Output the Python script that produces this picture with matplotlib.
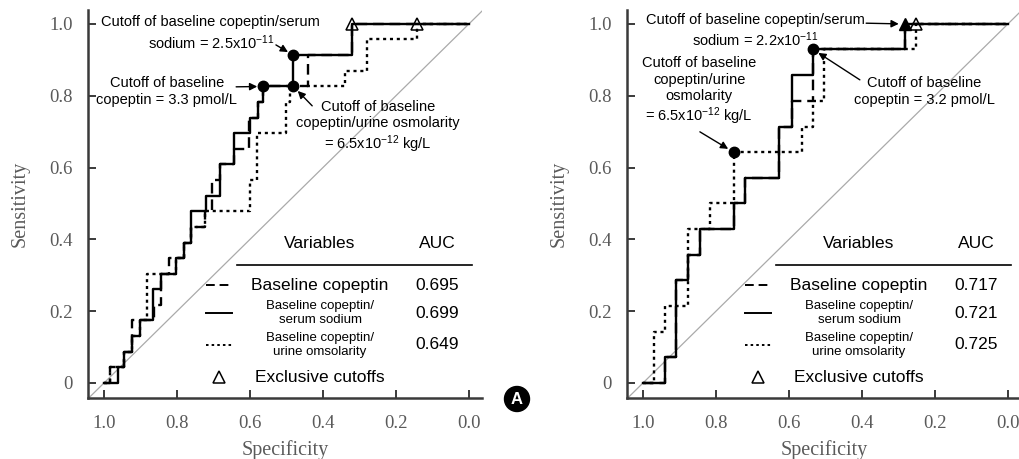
import matplotlib
matplotlib.use("Agg")
import matplotlib.pyplot as plt
from matplotlib.lines import Line2D

plt.rcParams["font.family"] = ["Liberation Sans", "DejaVu Sans"]
plt.rcParams["mathtext.fontset"] = "custom"
plt.rcParams["mathtext.rm"] = "Liberation Sans"
plt.rcParams["mathtext.it"] = "Liberation Sans"

SERIF = "Liberation Serif"
GREY = "#5a5a5a"
AXC = "#3a3a3a"

# ROC step points (specificity, sensitivity)
# left panel
a_spec_cop = [1.0, 0.984, 0.945, 0.923, 0.863, 0.844, 0.823, 0.782, 0.762, 0.724, 0.703,
              0.682, 0.643, 0.604, 0.577, 0.563, 0.441, 0.319, 0.0]
a_sens_cop = [0.0, 0.043, 0.087, 0.174, 0.217, 0.304, 0.348, 0.391, 0.435, 0.478, 0.565,
              0.609, 0.652, 0.739, 0.783, 0.826, 0.913, 1.0, 1.0]
a_spec_na = [1.0, 0.962, 0.945, 0.923, 0.902, 0.865, 0.843, 0.803, 0.782, 0.762, 0.721,
             0.682, 0.643, 0.601, 0.577, 0.563, 0.481, 0.319, 0.0]
a_sens_na = [0.0, 0.043, 0.087, 0.130, 0.174, 0.261, 0.304, 0.348, 0.391, 0.478, 0.522,
             0.609, 0.696, 0.739, 0.783, 0.826, 0.913, 1.0, 1.0]
a_spec_uosm = [1.0, 0.984, 0.945, 0.923, 0.902, 0.883, 0.803, 0.782, 0.762, 0.724, 0.601,
               0.581, 0.501, 0.490, 0.339, 0.279, 0.142, 0.0]
a_sens_uosm = [0.0, 0.043, 0.087, 0.130, 0.174, 0.304, 0.348, 0.391, 0.435, 0.478, 0.565,
               0.696, 0.783, 0.826, 0.870, 0.957, 1.0, 1.0]
a_cut_spec = [0.563, 0.481, 0.481]   # copeptin, serum sodium, urine osmolarity
a_cut_sens = [0.826, 0.913, 0.826]
a_excl_spec = [0.319, 0.142]
a_excl_sens = [1.0, 1.0]
a_auc = ["0.695", "0.699", "0.649"]

# right panel
b_spec_cop = [1.0, 0.940, 0.909, 0.877, 0.845, 0.752, 0.720, 0.626, 0.593, 0.534, 0.282, 0.0]
b_sens_cop = [0.0, 0.071, 0.286, 0.357, 0.429, 0.5, 0.571, 0.714, 0.786, 0.929, 1.0, 1.0]
b_spec_na = [1.0, 0.940, 0.909, 0.877, 0.845, 0.752, 0.720, 0.626, 0.593, 0.534, 0.282, 0.0]
b_sens_na = [0.0, 0.071, 0.286, 0.357, 0.429, 0.5, 0.571, 0.714, 0.857, 0.929, 1.0, 1.0]
b_spec_uosm = [1.0, 0.971, 0.940, 0.877, 0.817, 0.752, 0.564, 0.534, 0.505, 0.252, 0.0]
b_sens_uosm = [0.0, 0.143, 0.214, 0.429, 0.5, 0.643, 0.714, 0.786, 0.929, 1.0, 1.0]
b_cut_spec = [0.534, 0.752]   # copeptin, urine osmolarity
b_cut_sens = [0.929, 0.643]
b_na_cut_spec = [0.282]
b_na_cut_sens = [1.0]
b_excl_spec = [0.252]
b_excl_sens = [1.0]
b_auc = ["0.717", "0.721", "0.725"]

x_ticks = [1.0, 0.8, 0.6, 0.4, 0.2, 0.0]
x_labels = ["1.0", "0.8", "0.6", "0.4", "0.2", "0.0"]
y_ticks = [0, 0.2, 0.4, 0.6, 0.8, 1.0]
y_labels = ["0", "0.2", "0.4", "0.6", "0.8", "1.0"]

row_names = ["Baseline copeptin", "Baseline copeptin/\nserum sodium",
             "Baseline copeptin/\nurine omsolarity"]

DASH = (0, (4.5, 2.5))
DOT = (0, (1.3, 1.6))
LW = 1.7


def style_axes(ax):
    ax.set_xlim(1.044, -0.036)
    ax.set_ylim(-0.042, 1.039)
    for s in ["top", "right"]:
        ax.spines[s].set_visible(False)
    for s in ["left", "bottom"]:
        ax.spines[s].set_color(AXC)
        ax.spines[s].set_linewidth(1.8)
    ax.set_xticks(x_ticks)
    ax.set_xticklabels(x_labels, family=SERIF, fontsize=13.5, color=GREY)
    ax.set_yticks(y_ticks)
    ax.set_yticklabels(y_labels, family=SERIF, fontsize=13.5, color=GREY)
    ax.tick_params(direction="in", length=6, width=1.4, color=AXC)
    ax.tick_params(axis="x", pad=12)
    ax.tick_params(axis="y", pad=11)
    ax.set_xlabel("Specificity", family=SERIF, fontsize=14.5, color=GREY, labelpad=6)
    ax.set_ylabel("Sensitivity", family=SERIF, fontsize=14.5, color=GREY, labelpad=14)
    ax.axline((1, 0), (0, 1), color="#aaaaaa", lw=0.9, zorder=1)


def draw_legend(ax, aucs):
    tr = ax.transAxes
    ax.text(0.589, 0.397, "Variables", transform=tr, ha="center", va="center", fontsize=12.5)
    ax.text(0.886, 0.397, "AUC", transform=tr, ha="center", va="center", fontsize=12.5)
    ax.add_line(Line2D([0.378, 0.975], [0.343, 0.343], transform=tr, color="black",
                       lw=1.2, clip_on=False))
    rows_y = [0.291, 0.219, 0.137]
    styles = [DASH, "-", DOT]
    for i, (yy, ls) in enumerate(zip(rows_y, styles)):
        ax.add_line(Line2D([0.299, 0.365], [yy, yy], transform=tr, color="black",
                           lw=1.4, ls=ls, clip_on=False))
        fs = 12.5 if i == 0 else 9.5
        ax.text(0.589, yy, row_names[i], transform=tr, ha="center", va="center",
                fontsize=fs, linespacing=1.2)
        ax.text(0.886, yy, aucs[i], transform=tr, ha="center", va="center", fontsize=12.5)
    ax.plot([0.332], [0.054], marker="^", ms=9, mfc="white", mec="black", mew=1.1,
            transform=tr, clip_on=False)
    ax.text(0.589, 0.054, "Exclusive cutoffs", transform=tr, ha="center", va="center",
            fontsize=12.5)


def arrow(ax, tip, tail):
    ax.annotate("", xy=tip, xycoords="data", xytext=tail, textcoords="axes fraction",
                arrowprops=dict(arrowstyle="-|>", color="black", lw=1.0,
                                mutation_scale=11, shrinkA=0, shrinkB=4.5))


fig = plt.figure(figsize=(10.19, 4.59), dpi=100)
ax1 = fig.add_axes([88 / 1019, 61 / 459, 394 / 1019, 388 / 459])
ax2 = fig.add_axes([627 / 1019, 61 / 459, 394 / 1019, 388 / 459])

for ax in (ax1, ax2):
    style_axes(ax)

# left panel
ax1.step(a_spec_cop, a_sens_cop, where="post", color="black", lw=LW, ls=DASH)
ax1.step(a_spec_uosm, a_sens_uosm, where="post", color="black", lw=LW, ls=DOT)
ax1.step(a_spec_na, a_sens_na, where="post", color="black", lw=LW)
ax1.plot(a_cut_spec, a_cut_sens, "o", color="black", ms=7.5, zorder=5)
ax1.plot(a_excl_spec, a_excl_sens, "^", ms=9, mfc="none", mec="black", mew=1.1, zorder=5)
draw_legend(ax1, a_auc)

ax1.text(0.312, 0.939, "Cutoff of baseline copeptin/serum\nsodium = 2.5x10$^{-11}$",
         transform=ax1.transAxes, ha="center", va="center", fontsize=10.5, linespacing=1.25)
arrow(ax1, (a_cut_spec[1], a_cut_sens[1]), (0.477, 0.910))
ax1.text(0.200, 0.790, "Cutoff of baseline\ncopeptin = 3.3 pmol/L",
         transform=ax1.transAxes, ha="center", va="center", fontsize=10.5, linespacing=1.25)
arrow(ax1, (a_cut_spec[0], a_cut_sens[0]), (0.376, 0.802))
ax1.text(0.736, 0.698, "Cutoff of baseline\ncopeptin/urine osmolarity\n= 6.5x10$^{-12}$ kg/L",
         transform=ax1.transAxes, ha="center", va="center", fontsize=10.5, linespacing=1.2)
arrow(ax1, (a_cut_spec[2], a_cut_sens[2]), (0.569, 0.753))

# right panel
ax2.step(b_spec_cop, b_sens_cop, where="post", color="black", lw=LW, ls=DASH)
ax2.step(b_spec_uosm, b_sens_uosm, where="post", color="black", lw=LW, ls=DOT)
ax2.step(b_spec_na, b_sens_na, where="post", color="black", lw=LW)
ax2.plot(b_cut_spec, b_cut_sens, "o", color="black", ms=7.5, zorder=5)
ax2.plot(b_na_cut_spec, b_na_cut_sens, "^", color="black", ms=9, zorder=5)
ax2.plot(b_excl_spec, b_excl_sens, "^", ms=9, mfc="none", mec="black", mew=1.1, zorder=5)
draw_legend(ax2, b_auc)

ax2.text(0.327, 0.946, "Cutoff of baseline copeptin/serum\nsodium = 2.2x10$^{-11}$",
         transform=ax2.transAxes, ha="center", va="center", fontsize=10.5, linespacing=1.25)
arrow(ax2, (b_na_cut_spec[0], b_na_cut_sens[0]), (0.607, 0.966))
ax2.text(0.183, 0.789, "Cutoff of baseline\ncopeptin/urine\nosmolarity\n= 6.5x10$^{-12}$ kg/L",
         transform=ax2.transAxes, ha="center", va="center", fontsize=10.5, linespacing=1.2)
arrow(ax2, (b_cut_spec[1], b_cut_sens[1]), (0.185, 0.686))
ax2.text(0.754, 0.789, "Cutoff of baseline\ncopeptin = 3.2 pmol/L",
         transform=ax2.transAxes, ha="center", va="center", fontsize=10.5, linespacing=1.25)
arrow(ax2, (b_cut_spec[0], b_cut_sens[0]), (0.591, 0.820))

# panel badge
fig.text(517 / 1019, 1 - 399 / 459, "A", ha="center", va="center", color="white",
         fontsize=12, fontweight="bold",
         bbox=dict(boxstyle="circle,pad=0.3", fc="black", ec="black"))

fig.savefig("out.png", dpi=100)
